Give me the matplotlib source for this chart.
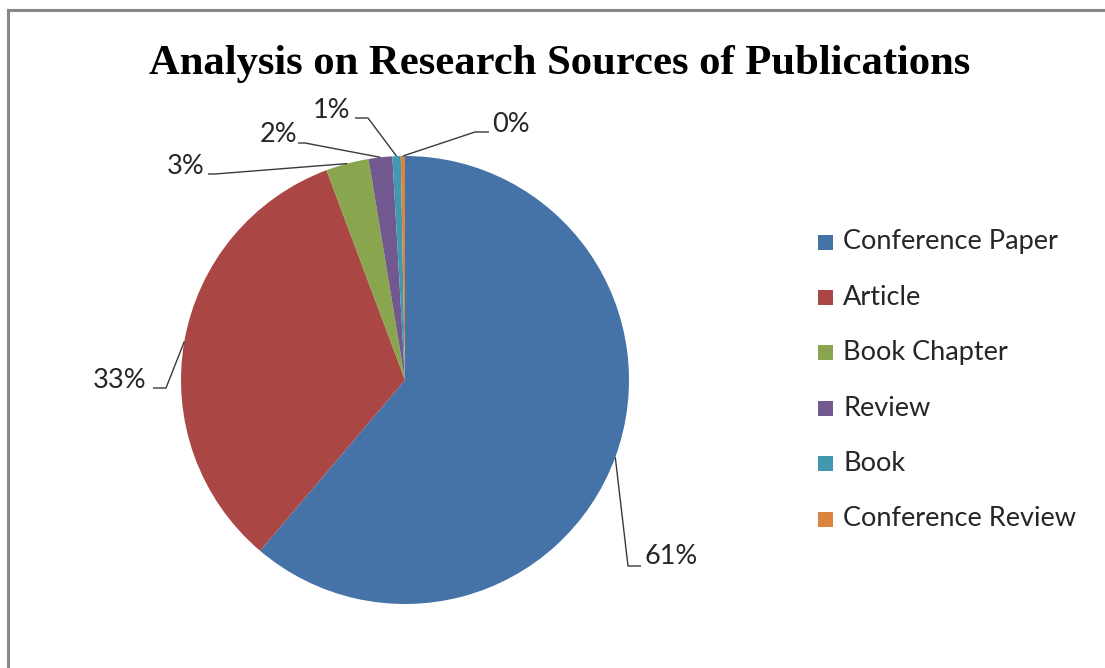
import matplotlib
matplotlib.use("Agg")
import matplotlib.pyplot as plt
from matplotlib.patches import Rectangle
from matplotlib.lines import Line2D
import numpy as np

# publication types and their share (%)
sources = ["Conference Paper", "Article", "Book Chapter", "Review", "Book", "Conference Review"]
shares = [61.2, 33.1, 3.1, 1.7, 0.6, 0.3]
colors = ["#4572A7", "#AA4643", "#89A54E", "#71588F", "#4198AF", "#DB843D"]

# label text position (px, y measured from top) and elbow of each leader line
label_pos = [(645, 557, "left"), (146, 381, "right"), (205, 167, "right"),
             (297, 135, "right"), (350, 111, "right"), (492, 125, "left")]
label_elbow = [[(628, 566), (641, 566)],
               [(166, 388), (153, 388)],
               [(215, 174), (208, 174)],
               [(305, 143), (298, 143)],
               [(368, 118), (355, 118)],
               [(475, 132), (489, 132)]]

W, H = 1105, 668
fig = plt.figure(figsize=(W / 100, H / 100), dpi=100)
ax = fig.add_axes([0, 0, 1, 1])

cx, cy, r = 405, H - 380, 224
wedges, _ = ax.pie(shares, colors=colors, startangle=90, counterclock=False,
                   center=(cx, cy), radius=r,
                   wedgeprops=dict(edgecolor="none", linewidth=0))
ax.set_xlim(0, W)
ax.set_ylim(0, H)
ax.set_aspect("equal")
ax.axis("off")

label_font = dict(family="Lato", fontsize=19.5, color="#262626")

# data labels with leader lines
for w, val, (tx, ty, ha), elbow in zip(wedges, shares, label_pos, label_elbow):
    mid = np.deg2rad((w.theta1 + w.theta2) / 2)
    ex, ey = cx + r * np.cos(mid), cy + r * np.sin(mid)
    xs = [ex] + [p[0] for p in elbow]
    ys = [ey] + [H - p[1] for p in elbow]
    ax.plot(xs, ys, color="#3a3a3a", lw=1.0, solid_capstyle="butt")
    ax.text(tx, H - ty, f"{val:.0f}%", ha=ha, va="center", **label_font)

# legend
for i, (name, c) in enumerate(zip(sources, colors)):
    y = H - (242 + i * 55.4)
    ax.add_patch(Rectangle((818, y - 7.5), 15, 15, facecolor=c, edgecolor="none"))
    ax.text(843, y, name, ha="left", va="center", **label_font)

ax.text(560, H - 64, "Analysis on Research Sources of Publications",
        ha="center", va="center", family="Liberation Serif",
        fontweight="bold", fontsize=30.7, color="black")

# outer frame (top and left edges visible)
fig.add_artist(Line2D([8 / W, 1], [1 - 10 / H, 1 - 10 / H], color="#888888", lw=2.2))
fig.add_artist(Line2D([8 / W, 8 / W], [0, 1 - 10 / H], color="#888888", lw=2.2))

fig.savefig("out.png", dpi=100)
